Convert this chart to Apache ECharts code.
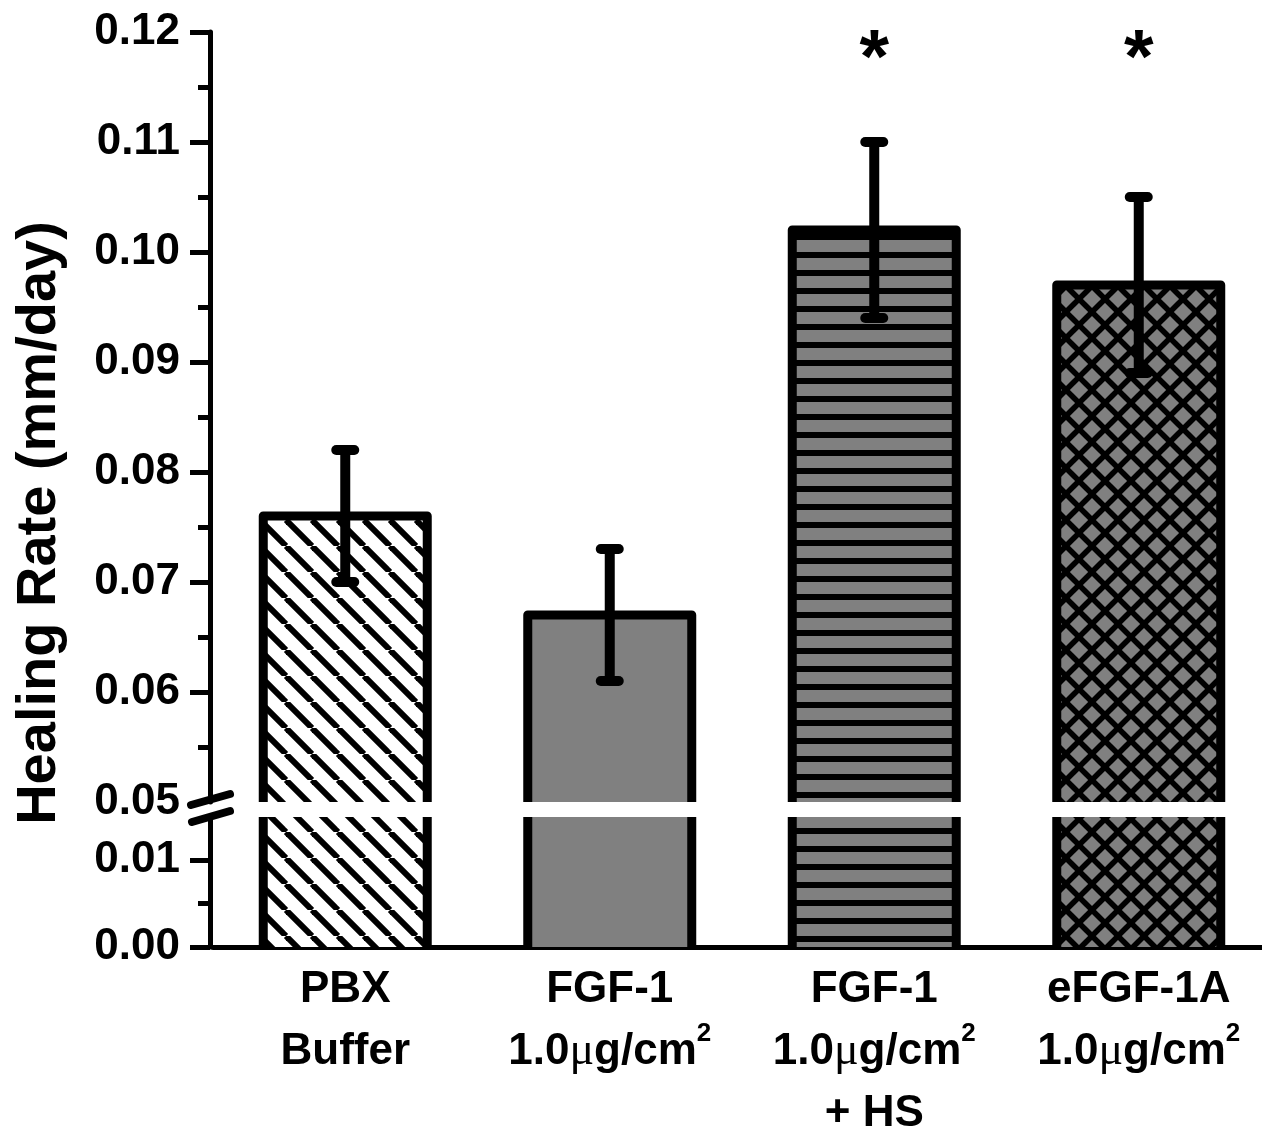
<!DOCTYPE html>
<html><head><meta charset="utf-8">
<script src="https://cdn.jsdelivr.net/npm/echarts@6/dist/echarts.min.js"></script>
<style>html,body{margin:0;padding:0;background:#fff}#c{width:1262px;height:1134px}</style>
</head><body><div id="c"></div>
<script>
// ---- data ----
const categories = ['PBX\nBuffer', 'FGF-1\n1.0μg/cm²', 'FGF-1\n1.0μg/cm²\n+ HS', 'eFGF-1A\n1.0μg/cm²'];
const healingRate = [0.076, 0.067, 0.102, 0.097];
const errorSD = [0.006, 0.006, 0.008, 0.008];
const significance = ['', '', '*', '*'];
const sigLevel = 0.1174;
const upperTickLabels = [0.05, 0.06, 0.07, 0.08, 0.09, 0.10, 0.11, 0.12];
const upperMajorTicks = [0.06, 0.07, 0.08, 0.09, 0.10, 0.11, 0.12];
const upperMinorTicks = [0.055, 0.065, 0.075, 0.085, 0.095, 0.105, 0.115];
const lowerTickLabels = [0.00, 0.01];
const lowerMinorTicks = [0.005];
const fillKinds = ['hatch', 'solid', 'hstripe', 'cross'];

// ---- patterns ----
const FONT = "'Liberation Sans', Arial, Helvetica, sans-serif";
const GRAY = '#808080';
function makePattern(kind) {
  const c = document.createElement('canvas');
  const ctx = c.getContext('2d');
  if (kind === 'hstripe') {
    c.width = 8; c.height = 18;
    ctx.fillStyle = GRAY; ctx.fillRect(0, 0, 8, 18);
    ctx.fillStyle = '#000'; ctx.fillRect(0, 0, 8, 6);
    return { image: c, repeat: 'repeat' };
  }
  if (kind === 'solid') return GRAY;
  const s = 26;
  c.width = s; c.height = s;
  ctx.fillStyle = kind === 'hatch' ? '#fff' : GRAY;
  ctx.fillRect(0, 0, s, s);
  ctx.strokeStyle = '#000';
  ctx.lineWidth = kind === 'hatch' ? 6 : 5.5;
  for (const o of [-s, 0, s]) {
    ctx.beginPath(); ctx.moveTo(o, 0); ctx.lineTo(o + s, s); ctx.stroke();
    if (kind === 'cross') { ctx.beginPath(); ctx.moveTo(o, s); ctx.lineTo(o + s, 0); ctx.stroke(); }
  }
  return { image: c, repeat: 'repeat' };
}
const fills = fillKinds.map(makePattern);

const BAR_RATIO = 0.62;
function renderBar(params, api) {
  const i = api.value(0), v = api.value(1);
  const cs = params.coordSys;
  const p = api.coord([i, v]);
  const bw = api.size([1, 0])[0] * BAR_RATIO;
  const baseY = cs.y + cs.height;
  const clipped = p[1] < cs.y;
  const top = clipped ? cs.y : p[1];
  const L = p[0] - bw / 2, R = p[0] + bw / 2;
  const children = [{
    type: 'rect', shape: { x: L, y: top, width: bw, height: baseY - top },
    style: { fill: fills[i], stroke: null }
  }];
  const ls = { stroke: '#000', lineWidth: 9, fill: null, lineJoin: 'round' };
  if (clipped) {
    children.push({ type: 'line', shape: { x1: L, y1: top, x2: L, y2: baseY }, style: ls });
    children.push({ type: 'line', shape: { x1: R, y1: top, x2: R, y2: baseY }, style: ls });
  } else {
    children.push({ type: 'polyline', shape: { points: [[L, baseY], [L, top], [R, top], [R, baseY]] }, style: ls });
  }
  return { type: 'group', children };
}

function renderErr(params, api) {
  const i = api.value(0), v = api.value(1), e = api.value(2);
  const hi = api.coord([i, v + e]), lo = api.coord([i, v - e]);
  const x = hi[0], cap = 9;
  const st = { stroke: '#000', lineWidth: 10, lineCap: 'round' };
  const children = [
    { type: 'line', shape: { x1: x, y1: hi[1], x2: x, y2: lo[1] }, style: { stroke: '#000', lineWidth: 10 } },
    { type: 'line', shape: { x1: x - cap, y1: hi[1], x2: x + cap, y2: hi[1] }, style: st },
    { type: 'line', shape: { x1: x - cap, y1: lo[1], x2: x + cap, y2: lo[1] }, style: st }
  ];
  const s = significance[i];
  if (s) {
    const sp = api.coord([i, sigLevel]);
    children.push({ type: 'text', x: sp[0], y: sp[1],
      style: { text: s, font: 'bold 76px ' + FONT, fill: '#000', textAlign: 'center', textVerticalAlign: 'middle' } });
  }
  return { type: 'group', children };
}

const chart = echarts.init(document.getElementById('c'), null, { renderer: 'canvas' });
const axisLbl = { fontSize: 44, fontWeight: 'bold', fontFamily: FONT, color: '#000', margin: 30, formatter: v => Number(v).toFixed(2) };
const tickStyle = { color: '#000', width: 5 };
const GL = 213, GW = 1058;

chart.setOption({
  backgroundColor: '#fff',
  animation: false,
  grid: [
    { left: GL, top: 32, width: GW, height: 770, outerBoundsMode: 'none', containLabel: false },
    { left: GL, top: 817, width: GW, height: 130, outerBoundsMode: 'none', containLabel: false }
  ],
  xAxis: [
    { type: 'category', gridIndex: 0, data: categories, show: false },
    { type: 'category', gridIndex: 1, data: categories,
      axisLine: { show: true, lineStyle: { color: '#000', width: 5 } },
      axisTick: { show: false },
      axisLabel: {
        interval: 0, margin: 12, fontSize: 44, fontWeight: 'bold', fontFamily: FONT, color: '#000', lineHeight: 62,
        formatter: v => v.replace(/²/g, '{sup|2}').replace(/μ/g, '{mu|μ}'),
        rich: {
          sup: { fontSize: 26, fontWeight: 'bold', fontFamily: FONT, color: '#000', verticalAlign: 'top', lineHeight: 22 },
          mu: { fontSize: 46, fontWeight: 'normal', fontFamily: "'Liberation Serif', 'DejaVu Serif', serif", color: '#000' }
        }
      } }
  ],
  yAxis: [
    { type: 'value', gridIndex: 0, position: 'left', offset: 3, min: 0.05, max: 0.12, interval: 0.01,
      axisLine: { show: true, lineStyle: { color: '#000', width: 5 } },
      axisTick: { show: true, length: 20, lineStyle: tickStyle, customValues: upperMajorTicks },
      axisLabel: Object.assign({}, axisLbl, { customValues: upperTickLabels }),
      splitLine: { show: false } },
    { type: 'value', gridIndex: 0, position: 'left', offset: 3, min: 0.05, max: 0.12, interval: 0.01,
      axisLine: { show: false },
      axisTick: { show: true, length: 12, lineStyle: tickStyle, customValues: upperMinorTicks },
      axisLabel: { show: false }, splitLine: { show: false } },
    { type: 'value', gridIndex: 1, position: 'left', offset: 3, min: 0, max: 0.015, interval: 0.005,
      axisLine: { show: true, onZero: false, lineStyle: { color: '#000', width: 5 } },
      axisTick: { show: true, length: 20, lineStyle: tickStyle, customValues: lowerTickLabels },
      axisLabel: Object.assign({}, axisLbl, { customValues: lowerTickLabels }),
      splitLine: { show: false } },
    { type: 'value', gridIndex: 1, position: 'left', offset: 3, min: 0, max: 0.015, interval: 0.005,
      axisLine: { show: false },
      axisTick: { show: true, length: 12, lineStyle: tickStyle, customValues: lowerMinorTicks },
      axisLabel: { show: false }, splitLine: { show: false } }
  ],
  series: [
    { type: 'custom', xAxisIndex: 0, yAxisIndex: 0, z: 2, renderItem: renderBar,
      encode: { x: 0, y: 1 }, data: healingRate.map((v, i) => [i, v]) },
    { type: 'custom', xAxisIndex: 1, yAxisIndex: 2, z: 2, renderItem: renderBar,
      encode: { x: 0, y: 1 }, data: healingRate.map((v, i) => [i, v]) },
    { type: 'custom', xAxisIndex: 0, yAxisIndex: 0, z: 3, renderItem: renderErr,
      encode: { x: 0, y: 1 }, data: healingRate.map((v, i) => [i, v, errorSD[i]]) }
  ],
  graphic: [
    { type: 'text', x: 40, y: 523, rotation: Math.PI / 2,
      style: { text: 'Healing Rate (mm/day)', font: 'bold 56px ' + FONT, fill: '#000', textAlign: 'center', textVerticalAlign: 'middle' } },
    { type: 'line', shape: { x1: 191, y1: 805, x2: 230, y2: 794 }, style: { stroke: '#000', lineWidth: 8, lineCap: 'round' } },
    { type: 'line', shape: { x1: 192, y1: 822, x2: 230, y2: 811 }, style: { stroke: '#000', lineWidth: 8, lineCap: 'round' } }
  ]
});
</script>
</body></html>
